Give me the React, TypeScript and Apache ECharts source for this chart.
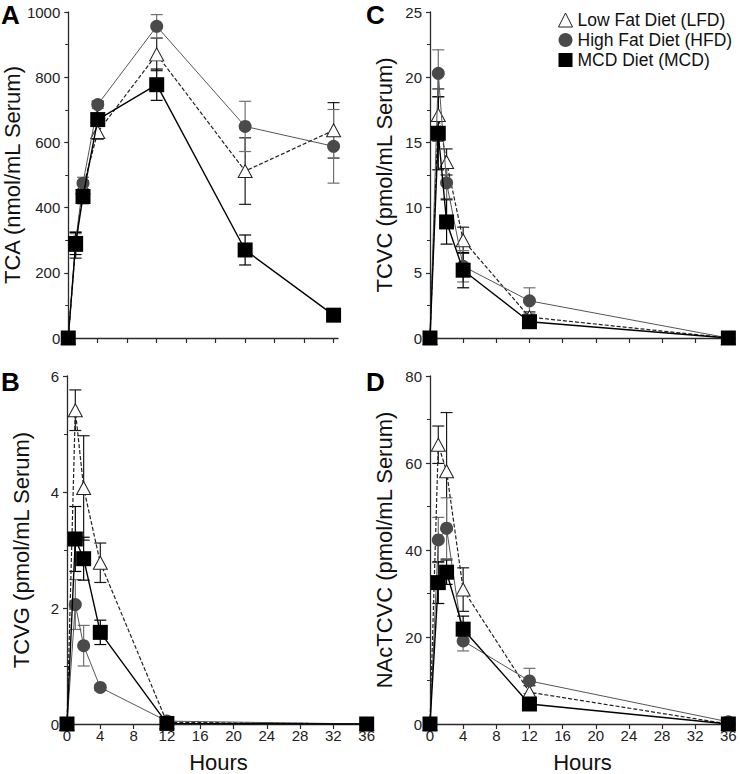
import React, { useEffect, useRef } from 'react';
import * as echarts from 'echarts';

const FONT = '"Liberation Sans", Arial, Helvetica, sans-serif';

// ---------- data ----------
const seriesNames = ['Low Fat Diet (LFD)', 'High Fat Diet (HFD)', 'MCD Diet (MCD)'];
const panelLetters = ['A', 'B', 'C', 'D'];
const yNames = ['TCA (nmol/mL Serum)', 'TCVG (pmol/mL Serum)', 'TCVC (pmol/mL Serum)', 'NAcTCVC (pmol/mL Serum)'];
const xTickValues = [0, 4, 8, 12, 16, 20, 24, 28, 32, 36];

const hoursA = [0, 1, 2, 4, 12, 24, 36];
const hoursBCD = [0, 1, 2, 4, 12, 36];

// Panel A: TCA
const tcaLFD = [0, 285, 462, 632, 870, 512, 637];
const tcaLFDErr = [0, 40, 20, 22, 50, 102, 85];
const tcaHFD = [0, 295, 475, 716, 956, 649, 588];
const tcaHFDErr = [0, 25, 18, 12, 36, 77, 113];
const tcaMCD = [0, 290, 434, 670, 777, 270, 70];
const tcaMCDErr = [0, 34, 22, 55, 48, 46, 4];

// Panel B: TCVG
const tcvgLFD = [0, 5.41, 4.07, 2.78, 0.03, 0];
const tcvgLFDErr = [0, 0.35, 0.9, 0.34, 0.02, 0];
const tcvgHFD = [0, 2.06, 1.35, 0.63, 0.05, 0];
const tcvgHFDErr = [0, 0.43, 0.35, 0.05, 0.02, 0];
const tcvgMCD = [0, 3.19, 2.85, 1.58, 0.01, 0];
const tcvgMCDErr = [0, 0.56, 0.37, 0.21, 0.01, 0];

// Panel C: TCVC
const tcvcLFD = [0, 17.1, 13.5, 7.5, 1.6, 0];
const tcvcLFDErr = [0, 2.0, 1.0, 1.0, 0.4, 0];
const tcvcHFD = [0, 20.3, 11.9, 5.5, 2.85, 0];
const tcvcHFDErr = [0, 1.8, 1.2, 1.2, 1.0, 0];
const tcvcMCD = [0, 15.7, 8.9, 5.2, 1.25, 0];
const tcvcMCDErr = [0, 2.8, 1.7, 1.35, 0.3, 0];

// Panel D: NAcTCVC
const nacLFD = [0, 64.2, 58.1, 30.9, 7.3, 0];
const nacLFDErr = [0, 4.3, 13.5, 5, 1.5, 0];
const nacHFD = [0, 42.3, 45.0, 19.1, 9.9, 0.5];
const nacHFDErr = [0, 5.2, 7, 2.3, 2.9, 0];
const nacMCD = [0, 32.5, 34.9, 21.8, 4.6, 0];
const nacMCDErr = [0, 4.8, 2.8, 3, 0.5, 0];

// ---------- layout / style ----------
const panels = [
  { hours: hoursA, values: [tcaLFD, tcaHFD, tcaMCD], errs: [tcaLFDErr, tcaHFDErr, tcaMCDErr], yMax: 1000, yInterval: 200,
    grid: { left: 67, top: 12, width: 271, height: 326 }, xMax: 36.6, showX: false, letterPos: [1, 15] },
  { hours: hoursBCD, values: [tcvgLFD, tcvgHFD, tcvgMCD], errs: [tcvgLFDErr, tcvgHFDErr, tcvgMCDErr], yMax: 6, yInterval: 2,
    grid: { left: 67, top: 376, width: 303, height: 349 }, xMax: 36.4, showX: true, letterPos: [1, 382] },
  { hours: hoursBCD, values: [tcvcLFD, tcvcHFD, tcvcMCD], errs: [tcvcLFDErr, tcvcHFDErr, tcvcMCDErr], yMax: 25, yInterval: 5,
    grid: { left: 430, top: 12, width: 305, height: 326 }, xMax: 36.8, showX: false, letterPos: [366, 15] },
  { hours: hoursBCD, values: [nacLFD, nacHFD, nacMCD], errs: [nacLFDErr, nacHFDErr, nacMCDErr], yMax: 80, yInterval: 20,
    grid: { left: 430, top: 376, width: 305, height: 349 }, xMax: 36.8, showX: true, letterPos: [366, 382] },
];

const styles = [
  { symbol: 'triangle', size: [14, 13], fill: '#ffffff', border: '#222222', borderWidth: 1, line: '#222222', lineWidth: 1.2, lineType: [4, 2], err: '#1a1a1a', z: 3 },
  { symbol: 'circle', size: 13, fill: '#4a4a4a', border: '#4a4a4a', borderWidth: 0, line: '#555555', lineWidth: 1, lineType: 'solid', err: '#707070', z: 4 },
  { symbol: 'rect', size: 15, fill: '#000000', border: '#000000', borderWidth: 0, line: '#000000', lineWidth: 1.4, lineType: 'solid', err: '#000000', z: 5 },
];

const axisColor = '#2a2a2a';

function buildOption() {
  const grids: any[] = [];
  const xAxes: any[] = [];
  const yAxes: any[] = [];
  const series: any[] = [];
  const graphics: any[] = [];

  panels.forEach((p, i) => {
    grids.push({ ...p.grid, containLabel: false });
    xAxes.push({
      type: 'value', gridIndex: i, min: 0, max: p.xMax,
      axisLine: { show: true, onZero: false, lineStyle: { color: axisColor, width: 1.3 } },
      axisTick: { show: true, inside: false, length: 5, customValues: xTickValues, lineStyle: { color: axisColor, width: 1.2 } },
      axisLabel: { show: p.showX, customValues: xTickValues, margin: 4, fontSize: 15, color: '#222', fontFamily: FONT },
      splitLine: { show: false },
      name: p.showX ? 'Hours' : '', nameLocation: 'middle', nameGap: 27,
      nameTextStyle: { fontSize: 22, color: '#111', fontFamily: FONT },
    });
    yAxes.push({
      type: 'value', gridIndex: i, min: 0, max: p.yMax, interval: p.yInterval,
      axisLine: { show: true, lineStyle: { color: axisColor, width: 1.3 } },
      axisTick: { show: true, inside: false, length: 4, lineStyle: { color: axisColor, width: 1.2 } },
      minorTick: { show: true, splitNumber: 2, length: 3, lineStyle: { color: axisColor, width: 1 } },
      axisLabel: { margin: 8, fontSize: 15, color: '#222', fontFamily: FONT, formatter: (v: number) => String(v) },
      splitLine: { show: false },
      name: yNames[i], nameLocation: 'middle', nameGap: 35,
      nameTextStyle: { fontSize: 22, color: '#111', fontFamily: FONT },
    });

    p.values.forEach((vals, g) => {
      const st = styles[g];
      const errs = p.errs[g];
      const errData = p.hours
        .map((h, k) => [h, vals[k] - errs[k], vals[k] + errs[k], errs[k]])
        .filter((d) => d[3] > 0);
      series.push({
        type: 'custom', name: seriesNames[g], xAxisIndex: i, yAxisIndex: i, z: 2,
        encode: { x: 0, y: [1, 2] },
        data: errData,
        silent: true,
        renderItem: (params: any, api: any) => {
          const x = api.value(0);
          const lo = api.coord([x, api.value(1)]);
          const hi = api.coord([x, api.value(2)]);
          const w = 6;
          const s = { stroke: st.err, lineWidth: 1.2 };
          return {
            type: 'group',
            children: [
              { type: 'line', shape: { x1: lo[0], y1: lo[1], x2: hi[0], y2: hi[1] }, style: s },
              { type: 'line', shape: { x1: lo[0] - w, y1: lo[1], x2: lo[0] + w, y2: lo[1] }, style: s },
              { type: 'line', shape: { x1: hi[0] - w, y1: hi[1], x2: hi[0] + w, y2: hi[1] }, style: s },
            ],
          };
        },
      });
      series.push({
        type: 'line', name: seriesNames[g], xAxisIndex: i, yAxisIndex: i, z: st.z,
        data: p.hours.map((h, k) => [h, vals[k]]),
        symbol: st.symbol, symbolSize: st.size, showAllSymbol: true,
        itemStyle: { color: st.fill, borderColor: st.border, borderWidth: st.borderWidth, opacity: 1 },
        lineStyle: { color: st.line, width: st.lineWidth, type: st.lineType },
        emphasis: { disabled: true },
        clip: false,
      });
    });

    graphics.push({
      type: 'text', x: p.letterPos[0], y: p.letterPos[1],
      style: { text: panelLetters[i], font: `900 26px ${FONT}`, fill: '#000', textVerticalAlign: 'middle', textAlign: 'left' },
    });
  });

  return {
    animation: false,
    backgroundColor: '#ffffff',
    textStyle: { fontFamily: FONT },
    grid: grids,
    xAxis: xAxes,
    yAxis: yAxes,
    series,
    graphic: graphics,
    legend: {
      orient: 'vertical', left: 553, top: 5, itemWidth: 14, itemHeight: 14, itemGap: 0, itemTextGap: 10,
      selectedMode: false,
      textStyle: { fontSize: 17.5, color: '#111', fontFamily: FONT, lineHeight: 20 },
      data: [
        { name: seriesNames[0], icon: 'triangle', itemStyle: { color: '#fff', borderColor: '#222', borderWidth: 1 } },
        { name: seriesNames[1], icon: 'circle', itemStyle: { color: '#4a4a4a', borderWidth: 0 } },
        { name: seriesNames[2], icon: 'rect', itemStyle: { color: '#000', borderWidth: 0 } },
      ],
    },
  };
}

export default function App() {
  const ref = useRef<HTMLDivElement>(null);
  useEffect(() => {
    if (!ref.current) return;
    const chart = echarts.init(ref.current, undefined, { renderer: 'svg' });
    chart.setOption(buildOption() as any);
    return () => chart.dispose();
  }, []);
  return (
    <div
      ref={ref}
      style={{ position: 'fixed', left: 0, top: 0, width: 740, height: 774, background: '#fff' }}
    />
  );
}
